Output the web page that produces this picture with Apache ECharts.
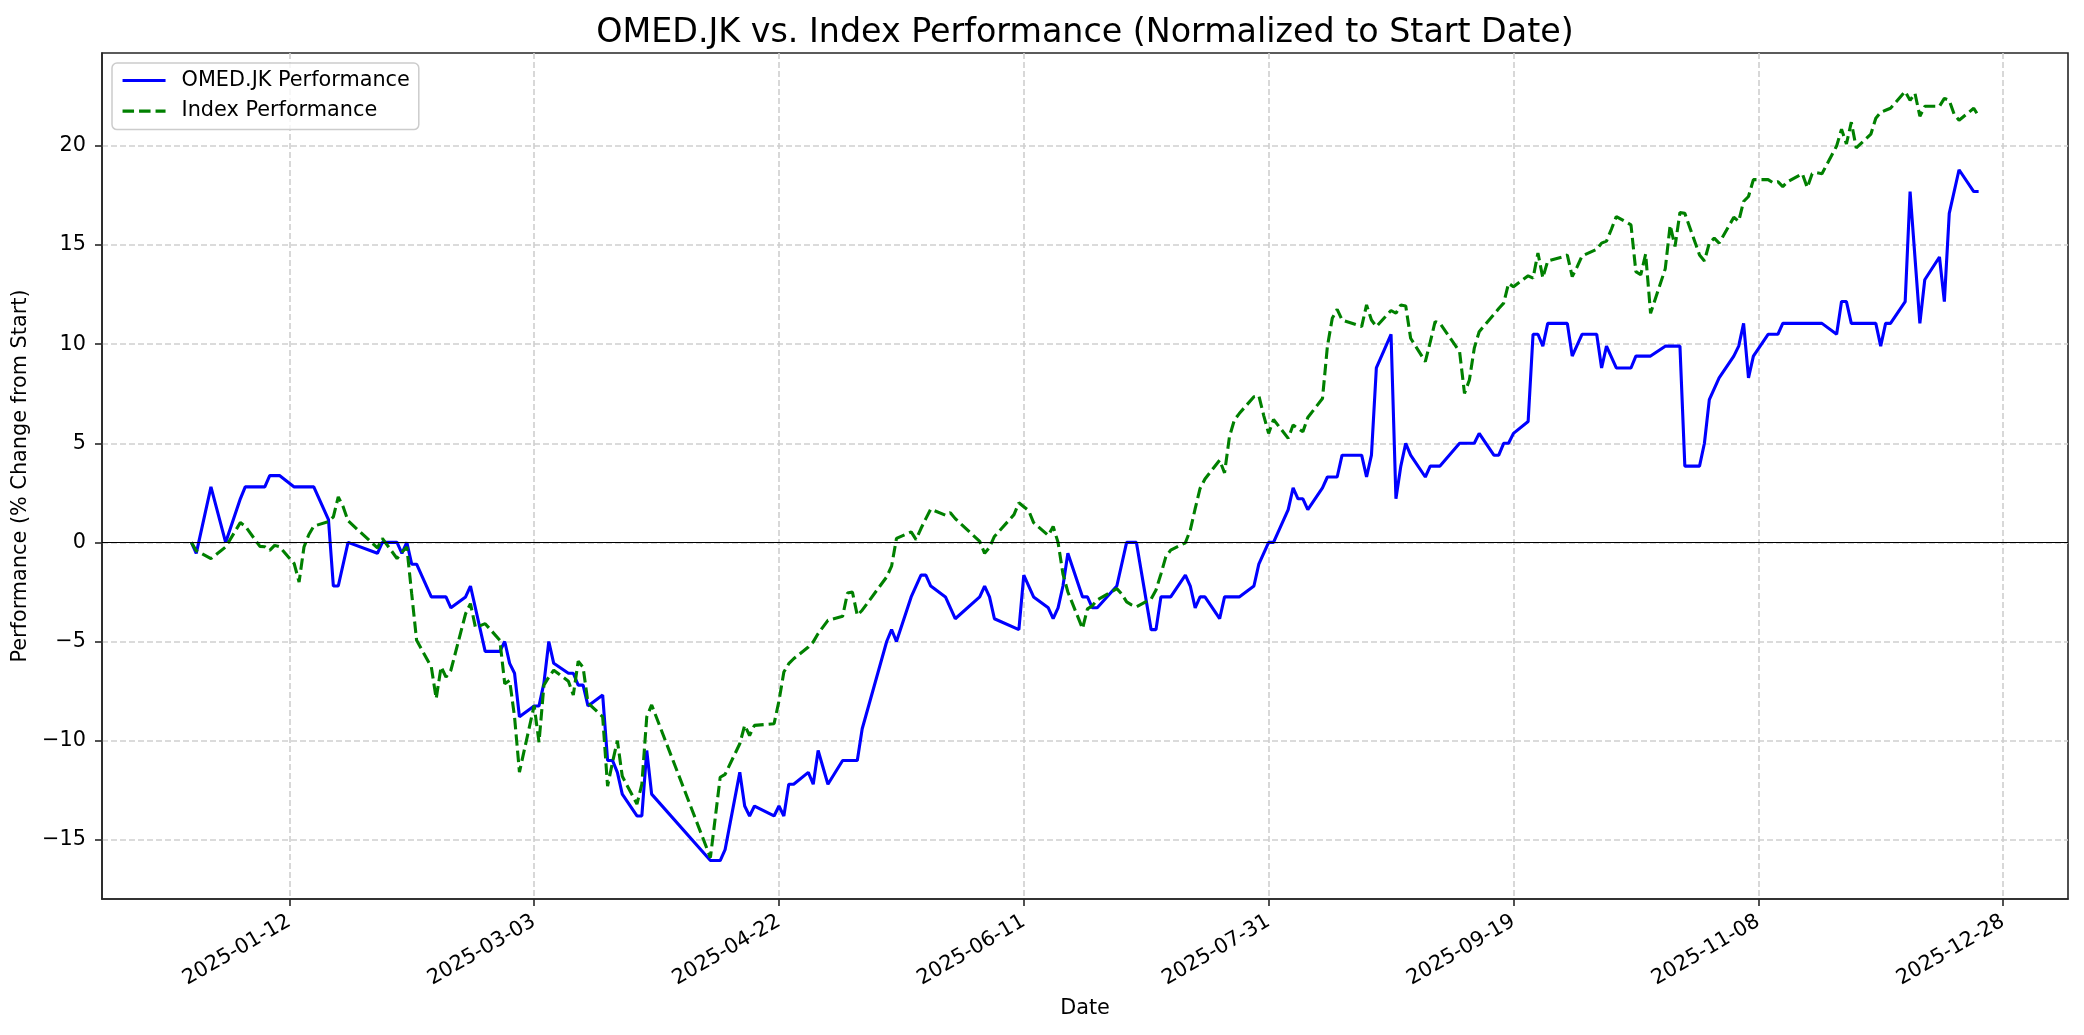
<!DOCTYPE html>
<html>
<head>
<meta charset="utf-8">
<script src="https://cdn.jsdelivr.net/npm/echarts@6/dist/echarts.min.js"></script>
<style>
html,body{margin:0;padding:0;background:#fff;}
#chart{width:2084px;height:1035px;}
</style>
</head>
<body>
<div id="chart"></div>
<script>
// ---------- DATA ----------
const omedDates = [
'2024-12-23','2024-12-24','2024-12-27','2024-12-30','2025-01-02','2025-01-03','2025-01-07','2025-01-08','2025-01-10',
'2025-01-13','2025-01-17','2025-01-20','2025-01-21','2025-01-22','2025-01-24','2025-01-30','2025-01-31','2025-02-03',
'2025-02-04','2025-02-05','2025-02-06','2025-02-07','2025-02-10','2025-02-13','2025-02-14','2025-02-17','2025-02-18',
'2025-02-21','2025-02-24','2025-02-25','2025-02-26','2025-02-27','2025-02-28','2025-03-03','2025-03-04','2025-03-05',
'2025-03-06','2025-03-07','2025-03-10','2025-03-11','2025-03-12','2025-03-13','2025-03-14','2025-03-17','2025-03-18',
'2025-03-19','2025-03-20','2025-03-21','2025-03-24','2025-03-25','2025-03-26','2025-03-27','2025-04-08','2025-04-10',
'2025-04-11','2025-04-14','2025-04-15','2025-04-16','2025-04-17','2025-04-21','2025-04-22','2025-04-23','2025-04-24',
'2025-04-25','2025-04-28','2025-04-29','2025-04-30','2025-05-02','2025-05-05','2025-05-08','2025-05-09','2025-05-14',
'2025-05-15','2025-05-16','2025-05-19','2025-05-21','2025-05-22','2025-05-23','2025-05-26','2025-05-28','2025-06-02',
'2025-06-03','2025-06-04','2025-06-05','2025-06-10','2025-06-11','2025-06-13','2025-06-16','2025-06-17','2025-06-18',
'2025-06-19','2025-06-20','2025-06-23','2025-06-24','2025-06-25','2025-06-26','2025-06-30','2025-07-02','2025-07-04',
'2025-07-07','2025-07-08','2025-07-09','2025-07-11','2025-07-14','2025-07-15','2025-07-16','2025-07-17','2025-07-18',
'2025-07-21','2025-07-22','2025-07-25','2025-07-28','2025-07-29','2025-07-31','2025-08-01','2025-08-04','2025-08-05',
'2025-08-06','2025-08-07','2025-08-08','2025-08-11','2025-08-12','2025-08-14','2025-08-15','2025-08-19','2025-08-20',
'2025-08-21','2025-08-22','2025-08-25','2025-08-26','2025-08-27','2025-08-28','2025-08-29','2025-09-01','2025-09-02',
'2025-09-04','2025-09-08','2025-09-11','2025-09-12','2025-09-15','2025-09-16','2025-09-17','2025-09-18','2025-09-19',
'2025-09-22','2025-09-23','2025-09-24','2025-09-25','2025-09-26','2025-09-30','2025-10-01','2025-10-03','2025-10-06',
'2025-10-07','2025-10-08','2025-10-10','2025-10-13','2025-10-14','2025-10-17','2025-10-20','2025-10-23','2025-10-24',
'2025-10-27','2025-10-28','2025-10-29','2025-10-31','2025-11-03','2025-11-04','2025-11-05','2025-11-06','2025-11-07',
'2025-11-10','2025-11-12','2025-11-13','2025-11-21','2025-11-24','2025-11-25','2025-11-26','2025-11-27','2025-12-02',
'2025-12-03','2025-12-04','2025-12-05','2025-12-08','2025-12-09','2025-12-11','2025-12-12','2025-12-15','2025-12-16',
'2025-12-17','2025-12-19','2025-12-22','2025-12-23'
];
const omedValues = [
0,-0.55,2.8,0,2.2,2.8,2.8,3.37,3.37,
2.8,2.8,1.15,-2.2,-2.2,0,-0.55,0,0,
-0.55,0,-1.1,-1.1,-2.75,-2.75,-3.3,-2.75,-2.2,
-5.5,-5.5,-5.0,-6.1,-6.6,-8.8,-8.25,-8.25,-7.1,
-5.0,-6.1,-6.6,-6.6,-7.2,-7.2,-8.25,-7.7,-11.0,
-11.0,-11.6,-12.7,-13.8,-13.8,-10.5,-12.7,-16.05,-16.05,
-15.5,-11.6,-13.3,-13.8,-13.3,-13.8,-13.3,-13.8,-12.2,
-12.2,-11.6,-12.2,-10.5,-12.2,-11.0,-11.0,-9.4,-5.0,
-4.4,-5.0,-2.75,-1.65,-1.65,-2.2,-2.75,-3.85,-2.75,
-2.2,-2.75,-3.85,-4.4,-1.65,-2.75,-3.3,-3.85,-3.3,
-2.2,-0.55,-2.75,-2.75,-3.3,-3.3,-2.2,0,0,
-4.4,-4.4,-2.75,-2.75,-1.65,-2.2,-3.3,-2.75,-2.75,
-3.85,-2.75,-2.75,-2.2,-1.1,0,0,1.65,2.75,
2.2,2.2,1.65,2.75,3.3,3.3,4.4,4.4,3.3,
4.4,8.8,10.5,2.2,3.85,5.0,4.4,3.3,3.85,
3.85,5.0,5.0,5.5,4.4,4.4,5.0,5.0,5.5,
6.1,10.5,10.5,9.9,11.05,11.05,9.4,10.5,10.5,
8.8,9.9,8.8,8.8,9.4,9.4,9.9,9.9,3.85,
3.85,5.0,7.2,8.3,9.4,9.9,11.05,8.3,9.4,
10.5,10.5,11.05,11.05,10.5,12.15,12.15,11.05,11.05,
9.9,11.05,11.05,12.15,17.7,11.05,13.25,14.4,12.15,
16.6,18.8,17.7,17.7
];
const indexDates = [
'2024-12-23','2024-12-24','2024-12-27','2024-12-30','2025-01-02','2025-01-03','2025-01-06','2025-01-07','2025-01-08',
'2025-01-09','2025-01-10','2025-01-13','2025-01-14','2025-01-15','2025-01-16','2025-01-17','2025-01-20','2025-01-21',
'2025-01-22','2025-01-23','2025-01-24','2025-01-30','2025-01-31','2025-02-03','2025-02-04','2025-02-05','2025-02-06',
'2025-02-07','2025-02-10','2025-02-11','2025-02-12','2025-02-13','2025-02-14','2025-02-17','2025-02-18','2025-02-19',
'2025-02-20','2025-02-21','2025-02-24','2025-02-25','2025-02-26','2025-02-27','2025-02-28','2025-03-03','2025-03-04',
'2025-03-05','2025-03-06','2025-03-07','2025-03-10','2025-03-11','2025-03-12','2025-03-13','2025-03-14','2025-03-17',
'2025-03-18','2025-03-19','2025-03-20','2025-03-21','2025-03-24','2025-03-25','2025-03-26','2025-03-27','2025-04-08',
'2025-04-10','2025-04-11','2025-04-14','2025-04-15','2025-04-16','2025-04-17','2025-04-21','2025-04-22','2025-04-23',
'2025-04-24','2025-04-25','2025-04-28','2025-04-29','2025-04-30','2025-05-02','2025-05-05','2025-05-06','2025-05-07',
'2025-05-08','2025-05-09','2025-05-14','2025-05-15','2025-05-16','2025-05-19','2025-05-20','2025-05-21','2025-05-22',
'2025-05-23','2025-05-26','2025-05-27','2025-05-28','2025-06-02','2025-06-03','2025-06-04','2025-06-05','2025-06-09',
'2025-06-10','2025-06-11','2025-06-12','2025-06-13','2025-06-16','2025-06-17','2025-06-18','2025-06-19','2025-06-20',
'2025-06-23','2025-06-24','2025-06-25','2025-06-26','2025-06-30','2025-07-01','2025-07-02','2025-07-03','2025-07-04',
'2025-07-07','2025-07-08','2025-07-09','2025-07-10','2025-07-11','2025-07-14','2025-07-15','2025-07-16','2025-07-17',
'2025-07-18','2025-07-21','2025-07-22','2025-07-23','2025-07-24','2025-07-25','2025-07-28','2025-07-29','2025-07-30',
'2025-07-31','2025-08-01','2025-08-04','2025-08-05','2025-08-06','2025-08-07','2025-08-08','2025-08-11','2025-08-12',
'2025-08-13','2025-08-14','2025-08-15','2025-08-19','2025-08-20','2025-08-21','2025-08-22','2025-08-25','2025-08-26',
'2025-08-27','2025-08-28','2025-08-29','2025-09-01','2025-09-02','2025-09-03','2025-09-04','2025-09-08','2025-09-09',
'2025-09-10','2025-09-11','2025-09-12','2025-09-15','2025-09-16','2025-09-17','2025-09-18','2025-09-19','2025-09-22',
'2025-09-23','2025-09-24','2025-09-25','2025-09-26','2025-09-29','2025-09-30','2025-10-01','2025-10-02','2025-10-03',
'2025-10-06','2025-10-07','2025-10-08','2025-10-09','2025-10-10','2025-10-13','2025-10-14','2025-10-15','2025-10-16',
'2025-10-17','2025-10-20','2025-10-21','2025-10-22','2025-10-23','2025-10-24','2025-10-27','2025-10-28','2025-10-29',
'2025-10-30','2025-10-31','2025-11-03','2025-11-04','2025-11-05','2025-11-06','2025-11-07','2025-11-10','2025-11-11',
'2025-11-12','2025-11-13','2025-11-14','2025-11-17','2025-11-18','2025-11-19','2025-11-20','2025-11-21','2025-11-24',
'2025-11-25','2025-11-26','2025-11-27','2025-11-28','2025-12-01','2025-12-02','2025-12-03','2025-12-04','2025-12-05',
'2025-12-08','2025-12-09','2025-12-10','2025-12-11','2025-12-12','2025-12-15','2025-12-16','2025-12-17','2025-12-18',
'2025-12-19','2025-12-22','2025-12-23'
];
const indexValues = [
0,-0.42,-0.82,-0.23,1.0,0.82,-0.2,-0.22,-0.4,
-0.15,-0.22,-1.07,-2.0,-0.23,0.4,0.82,1.05,1.29,
2.3,1.8,1.09,-0.28,0.2,-0.81,-0.5,-0.23,-2.6,
-4.94,-6.28,-7.88,-6.28,-6.79,-6.45,-3.6,-3.09,-4.27,
-4.2,-4.1,-4.94,-7.13,-6.96,-8.8,-11.59,-8.23,-10.08,
-7.21,-6.79,-6.45,-7.0,-7.7,-6.0,-6.3,-8.1,-8.8,
-12.3,-11.1,-10.0,-11.8,-13.2,-12.2,-8.8,-8.2,-15.9,
-11.85,-11.7,-10.16,-9.23,-9.74,-9.23,-9.15,-8.0,-6.54,
-6.12,-5.87,-5.28,-5.02,-4.6,-3.93,-3.73,-2.55,-2.5,
-3.68,-3.42,-1.74,-1.2,0.2,0.53,0.14,0.7,1.2,
1.68,1.37,1.5,1.2,0.05,-0.55,-0.25,0.3,1.4,
2.0,1.8,1.6,1.0,0.35,0.8,0.0,-1.6,-2.5,
-4.35,-3.35,-3.2,-2.9,-2.33,-2.6,-3.0,-3.15,-3.25,
-2.85,-2.4,-1.6,-0.73,-0.39,-0.02,0.62,1.7,2.72,
3.2,4.15,3.51,5.33,6.17,6.5,7.35,7.4,6.4,
5.5,6.2,5.25,5.92,5.75,5.58,6.3,7.26,9.88,
11.31,11.76,11.22,10.89,11.98,11.22,10.89,11.7,11.56,
11.98,11.93,10.3,9.12,10.1,11.14,11.05,9.62,7.52,
8.19,9.8,10.63,11.5,11.8,12.07,13.07,12.9,13.45,
13.33,14.6,13.35,14.2,14.4,14.5,13.41,13.9,14.45,
14.79,15.1,15.2,15.8,16.44,16.02,13.66,13.5,14.55,
11.56,13.8,16.0,14.93,16.64,16.6,14.5,14.2,15.1,
15.35,15.1,16.4,16.2,17.2,17.45,18.3,18.3,18.15,
18.2,17.95,18.2,18.6,17.9,18.6,18.65,18.6,20.0,
20.85,20.1,21.2,19.9,20.6,21.4,21.7,21.8,21.9,
22.75,22.3,22.65,21.5,22.0,22.0,22.4,22.3,21.6,
21.3,21.9,21.5
];
const xTickLabels = ['2025-01-12','2025-03-03','2025-04-22','2025-06-11','2025-07-31','2025-09-19','2025-11-08','2025-12-28'];
const yTickValues = [-15,-10,-5,0,5,10,15,20];

// ---------- CHART ----------
const FONT = 'DejaVu Sans';
const DAY = 86400000;
const ts = s => new Date(s + 'T00:00:00Z').getTime() / DAY;   // day number
const pad2 = n => (n < 10 ? '0' : '') + n;
const fmtDate = v => { const d = new Date(Math.round(v) * DAY); return d.getUTCFullYear() + '-' + pad2(d.getUTCMonth() + 1) + '-' + pad2(d.getUTCDate()); };

const omedData = omedDates.map((d, i) => [ts(d), omedValues[i]]);
const indexData = indexDates.map((d, i) => [ts(d), indexValues[i]]);
const xTicks = xTickLabels.map(ts);

const allX = omedDates.concat(indexDates).map(ts);
const xLo = Math.min.apply(null, allX), xHi = Math.max.apply(null, allX);
const xPad = (xHi - xLo) * 0.05;
const allY = omedValues.concat(indexValues);
const yLo = Math.min.apply(null, allY), yHi = Math.max.apply(null, allY);
const yPad = (yHi - yLo) * 0.05;

const spine = '#262626';
const gridColor = '#cfcfcf';

const chart = echarts.init(document.getElementById('chart'), null, {renderer: 'canvas'});
chart.setOption({
  animation: false,
  backgroundColor: '#ffffff',
  title: {
    text: 'OMED.JK vs. Index Performance (Normalized to Start Date)',
    left: 1085, top: 17, textAlign: 'center', padding: 0,
    textStyle: {fontFamily: FONT, fontSize: 33.3, fontWeight: 'normal', color: '#000'}
  },
  legend: {
    orient: 'vertical', left: 112, top: 63,
    padding: [7, 9, 8, 9], itemGap: 9.6, itemWidth: 43, itemHeight: 14,
    backgroundColor: 'rgba(255,255,255,0.8)', borderColor: '#cccccc', borderWidth: 1.5, borderRadius: 5,
    itemStyle: {opacity: 0},
    lineStyle: {width: 3.1},
    textStyle: {fontFamily: FONT, fontSize: 20.8, color: '#000', padding: [0, 0, 0, 11]},
    data: ['OMED.JK Performance', 'Index Performance']
  },
  grid: {
    left: 102, right: 16, top: 53, bottom: 136,
    show: true, borderColor: spine, borderWidth: 1.6, backgroundColor: 'transparent'
  },
  xAxis: {
    type: 'value', min: xLo - xPad, max: xHi + xPad, scale: true,
    name: 'Date', nameLocation: 'middle', nameGap: 99,
    nameTextStyle: {fontFamily: FONT, fontSize: 20.8, color: '#000'},
    axisLine: {show: true, onZero: false, lineStyle: {color: spine, width: 1.6}},
    axisTick: {show: true, customValues: xTicks, length: 7, lineStyle: {color: spine, width: 1.6}},
    axisLabel: {
      customValues: xTicks, rotate: 30, margin: 21,
      fontFamily: FONT, fontSize: 20.8, color: '#000',
      formatter: v => fmtDate(v)
    },
    splitLine: {show: true, lineStyle: {color: gridColor, width: 1.6, type: [6, 3]}}
  },
  yAxis: {
    type: 'value', min: yLo - yPad, max: yHi + yPad,
    name: 'Performance (% Change from Start)', nameLocation: 'middle', nameGap: 64,
    nameTextStyle: {fontFamily: FONT, fontSize: 20.8, color: '#000'},
    axisLine: {show: true, onZero: false, lineStyle: {color: spine, width: 1.6}},
    axisTick: {show: true, customValues: yTickValues, length: 7, lineStyle: {color: spine, width: 1.6}},
    axisLabel: {
      customValues: yTickValues, margin: 16,
      fontFamily: FONT, fontSize: 20.8, color: '#000',
      formatter: v => (v < 0 ? '\u2212' + Math.abs(v) : String(v))
    },
    splitLine: {show: true, lineStyle: {color: gridColor, width: 1.6, type: [6, 3]}}
  },
  series: [
    {
      name: 'OMED.JK Performance', type: 'line', data: omedData,
      symbol: 'none', showSymbol: false, z: 3,
      lineStyle: {color: '#0000ff', width: 3.1, type: 'solid'},
      itemStyle: {color: '#0000ff'},
      markLine: {
        silent: true, symbol: 'none', label: {show: false},
        lineStyle: {color: '#000', width: 1.1, type: 'solid'},
        data: [{yAxis: 0}]
      }
    },
    {
      name: 'Index Performance', type: 'line', data: indexData,
      symbol: 'none', showSymbol: false, z: 4,
      lineStyle: {color: '#008000', width: 3.1, type: [11.5, 5]},
      itemStyle: {color: '#008000'}
    }
  ]
});
</script>
</body>
</html>
